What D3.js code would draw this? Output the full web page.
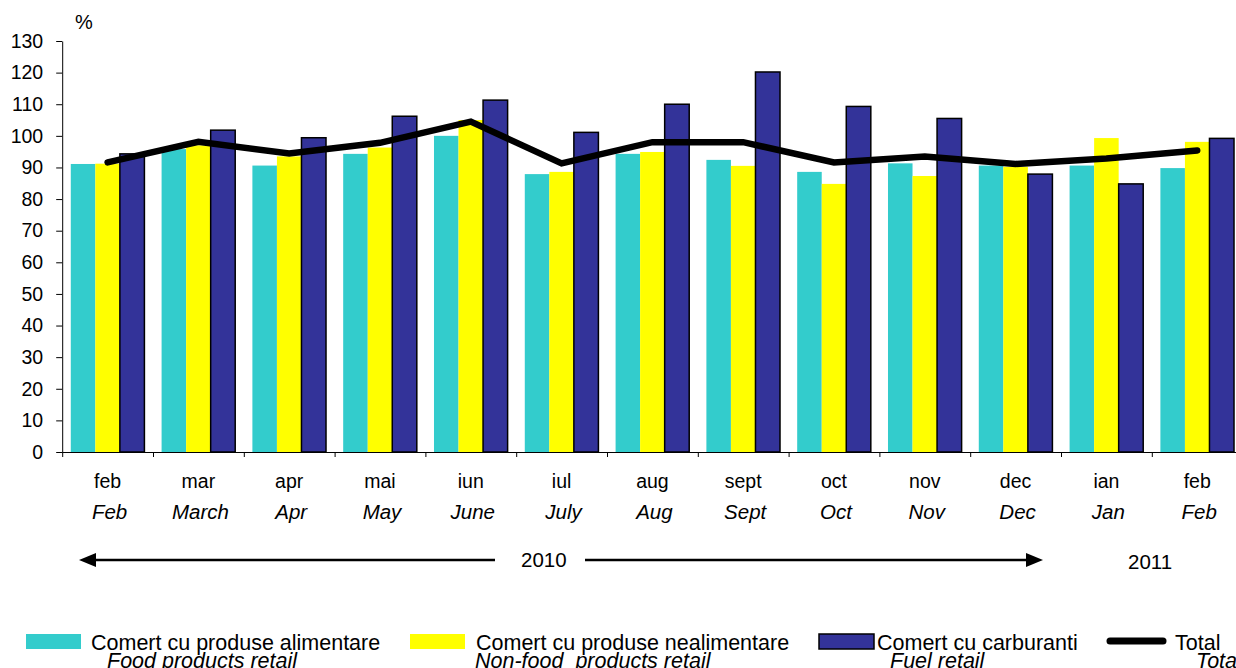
<!DOCTYPE html>
<html>
<head>
<meta charset="utf-8">
<script src="https://cdn.jsdelivr.net/npm/d3@7"></script>
<style>
  body { margin: 0; background: #fff; }
  svg { display: block; font-family: "Liberation Sans", Arial, sans-serif; }
</style>
</head>
<body>
<script>
// data
const months   = ['feb', 'mar', 'apr', 'mai', 'iun', 'iul', 'aug', 'sept', 'oct', 'nov', 'dec', 'ian', 'feb'];
const monthsEn = ['Feb', 'March', 'Apr', 'May', 'June', 'July', 'Aug', 'Sept', 'Oct', 'Nov', 'Dec', 'Jan', 'Feb'];
const food     = [91.1, 95.8, 90.6, 94.3, 100.0, 87.9, 94.3, 92.4, 88.6, 91.3, 90.6, 90.6, 89.8];
const nonFood  = [91.2, 97.0, 93.5, 96.3, 105.0, 88.6, 94.9, 90.5, 84.8, 87.3, 90.2, 99.3, 98.1];
const fuel     = [94.3, 101.8, 99.4, 106.2, 111.3, 101.1, 110.0, 120.2, 109.3, 105.5, 87.9, 84.8, 99.2];
const total    = [91.6, 98.1, 94.4, 97.8, 104.5, 91.3, 98.0, 98.0, 91.6, 93.5, 91.1, 92.8, 95.4];
const yTicks   = d3.range(0, 131, 10);

const seriesKeys = ['food', 'nonFood', 'fuel'];
const colors = { food: '#33CCCC', nonFood: '#FFFF00', fuel: '#333399' };
const rows = months.map((m, i) => ({ i, food: food[i], nonFood: nonFood[i], fuel: fuel[i] }));

const width = 1236, height = 668;
const plotLeft = 62.2, step = 90.8, plotTop = 41, plotBottom = 452;

const svg = d3.select('body').append('svg')
  .attr('width', width)
  .attr('height', height);

const y = d3.scaleLinear().domain([0, 130]).range([plotBottom, plotTop]);

const x = d3.scaleBand()
  .domain(d3.range(months.length))
  .range([plotLeft, plotLeft + step * months.length])
  .padding(0);

const xs = d3.scaleBand()
  .domain(seriesKeys)
  .range([0, step])
  .paddingInner(0)
  .paddingOuter(0.35);

const xIdx = d3.scaleLinear().domain([0, months.length]).range([plotLeft, plotLeft + step * months.length]);

// bars
const groups = svg.append('g').selectAll('g')
  .data(rows)
  .enter()
  .append('g')
  .attr('transform', d => `translate(${x(d.i)},0)`);

groups.selectAll('rect')
  .data(d => seriesKeys.map(k => ({ k, v: d[k] })))
  .enter()
  .append('rect')
  .attr('x', d => xs(d.k))
  .attr('y', d => y(d.v))
  .attr('width', xs.bandwidth())
  .attr('height', d => y(0) - y(d.v))
  .style('fill', d => colors[d.k])
  .style('stroke', d => d.k === 'fuel' ? '#000' : 'none')
  .style('stroke-width', 1.5);

// axes
const yAxis = d3.axisLeft(y).tickValues(yTicks).tickSize(6).tickSizeOuter(0).tickPadding(13);
const gy = svg.append('g')
  .attr('transform', `translate(${plotLeft},0)`)
  .call(yAxis);
gy.selectAll('text').style('font-size', '19.5px').style('fill', '#000').style('font-family', '"Liberation Sans", Arial, sans-serif');
gy.selectAll('line, path').style('stroke', '#000');

const xAxis = d3.axisBottom(xIdx).tickValues(d3.range(months.length + 1)).tickSize(5).tickSizeOuter(0).tickFormat('');
const gx = svg.append('g')
  .attr('transform', `translate(0,${plotBottom})`)
  .call(xAxis);
gx.selectAll('line, path').style('stroke', '#000');

// month labels
svg.append('g').selectAll('text')
  .data(months)
  .enter()
  .append('text')
  .attr('x', (d, i) => x(i) + step / 2)
  .attr('y', 488)
  .attr('text-anchor', 'middle')
  .style('font-size', '19.5px')
  .text(d => d);

svg.append('g').selectAll('text')
  .data(monthsEn)
  .enter()
  .append('text')
  .attr('x', (d, i) => x(i) + step / 2 + 2)
  .attr('y', 519)
  .attr('text-anchor', 'middle')
  .style('font-size', '20.5px')
  .style('font-style', 'italic')
  .text(d => d);

svg.append('text')
  .attr('x', 75)
  .attr('y', 29)
  .style('font-size', '20px')
  .text('%');

// total line
const line = d3.line()
  .x((d, i) => x(i) + step / 2)
  .y(d => y(d));

svg.append('path')
  .datum(total)
  .attr('d', line)
  .style('fill', 'none')
  .style('stroke', '#000')
  .style('stroke-width', 6.5)
  .style('stroke-linecap', 'round')
  .style('stroke-linejoin', 'miter');

// year arrows
const ay = 560;
svg.append('line').attr('x1', 95).attr('x2', 495).attr('y1', ay).attr('y2', ay)
  .style('stroke', '#000').style('stroke-width', 2.5);
svg.append('path').attr('d', `M79,${ay} L96,${ay - 7} L96,${ay + 7} Z`).style('fill', '#000');
svg.append('line').attr('x1', 585).attr('x2', 1028).attr('y1', ay).attr('y2', ay)
  .style('stroke', '#000').style('stroke-width', 2.5);
svg.append('path').attr('d', `M1043,${ay} L1026,${ay - 7} L1026,${ay + 7} Z`).style('fill', '#000');

svg.append('text').attr('x', 521).attr('y', 567).style('font-size', '20.5px').text('2010');
svg.append('text').attr('x', 1128).attr('y', 569).style('font-size', '20.5px').text('2011');

// legend
const legend = [
  { type: 'rect', color: colors.food, sx: 26, tx: 91, t1: 'Comert cu produse alimentare', t2x: 107, t2: 'Food products retail' },
  { type: 'rect', color: colors.nonFood, sx: 410, tx: 476, t1: 'Comert cu produse nealimentare', t2x: 475, t2: 'Non-food\u00a0\u00a0products retail' },
  { type: 'rect', color: colors.fuel, sx: 819, tx: 877, t1: 'Comert cu carburanti', t2x: 890, t2: 'Fuel retail', stroke: true },
  { type: 'line', color: '#000', sx: 1110, tx: 1175, t1: 'Total', t2x: 1196, t2: 'Total' }
];

const lg = svg.append('g');
legend.forEach(l => {
  if (l.type === 'rect') {
    lg.append('rect')
      .attr('x', l.sx).attr('y', 634)
      .attr('width', 55).attr('height', 15)
      .style('fill', l.color)
      .style('stroke', l.stroke ? '#000' : 'none')
      .style('stroke-width', 1.5);
  } else {
    lg.append('line')
      .attr('x1', l.sx).attr('x2', 1163).attr('y1', 641).attr('y2', 641)
      .style('stroke', '#000').style('stroke-width', 7).style('stroke-linecap', 'round');
  }
  lg.append('text').attr('x', l.tx).attr('y', 650).style('font-size', '21.5px').text(l.t1);
  lg.append('text').attr('x', l.t2x).attr('y', 668).style('font-size', '21.5px').style('font-style', 'italic').text(l.t2);
});
</script>
</body>
</html>
